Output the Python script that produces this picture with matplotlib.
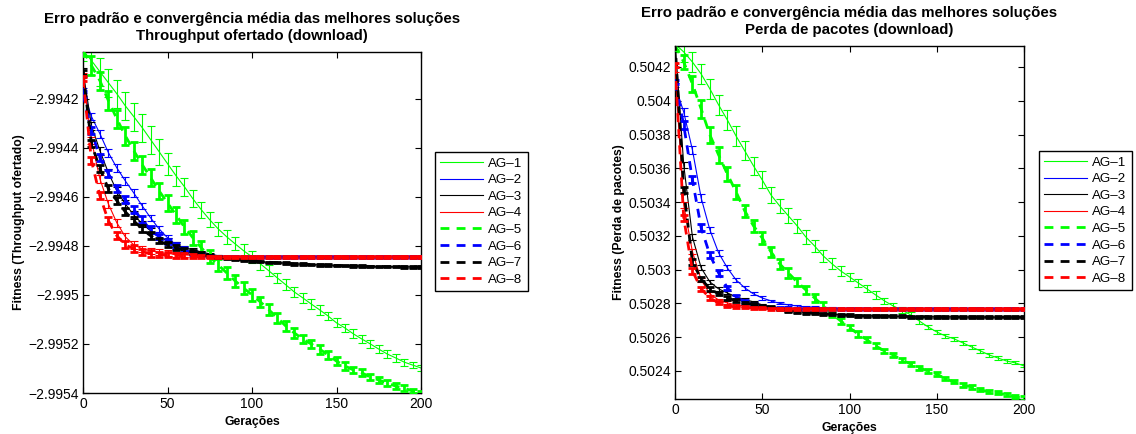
import numpy as np
import matplotlib
matplotlib.use("Agg")
import matplotlib.pyplot as plt
from matplotlib.ticker import FixedLocator, FuncFormatter

plt.rcParams['font.family'] = ['Liberation Sans', 'DejaVu Sans']

# ---------------- data ----------------
generations = np.arange(0, 201, 5)
labels = ["AG–1", "AG–2", "AG–3", "AG–4", "AG–5", "AG–6", "AG–7", "AG–8"]

# Left chart: Fitness (Throughput ofertado)
thr_ag1 = [-2.994004, -2.994045, -2.994090, -2.994135, -2.994180, -2.994229, -2.994273, -2.994318, -2.994367, -2.994416,
           -2.994465, -2.994514, -2.994559, -2.994608, -2.994653, -2.994694, -2.994731, -2.994763, -2.994792, -2.994820,
           -2.994845, -2.994874, -2.994902, -2.994931, -2.994959, -2.994988, -2.995012, -2.995037, -2.995061, -2.995086,
           -2.995114, -2.995135, -2.995159, -2.995180, -2.995200, -2.995221, -2.995241, -2.995257, -2.995274, -2.995286,
           -2.995298]
thr_ag2 = [-2.994167, -2.994273, -2.994343, -2.994420, -2.994482, -2.994535, -2.994584, -2.994637, -2.994686, -2.994731,
           -2.994767, -2.994796, -2.994816, -2.994829, -2.994837, -2.994841, -2.994843, -2.994845, -2.994845, -2.994845,
           -2.994845, -2.994845, -2.994845, -2.994845, -2.994845, -2.994845, -2.994845, -2.994845, -2.994845, -2.994845,
           -2.994845, -2.994845, -2.994845, -2.994845, -2.994845, -2.994845, -2.994845, -2.994845, -2.994845, -2.994845,
           -2.994845]
thr_ag3 = [-2.994086, -2.994310, -2.994412, -2.994502, -2.994576, -2.994629, -2.994674, -2.994710, -2.994739, -2.994763,
           -2.994780, -2.994796, -2.994808, -2.994816, -2.994825, -2.994833, -2.994841, -2.994847, -2.994853, -2.994857,
           -2.994861, -2.994865, -2.994867, -2.994869, -2.994871, -2.994874, -2.994875, -2.994876, -2.994878, -2.994879,
           -2.994880, -2.994881, -2.994882, -2.994883, -2.994884, -2.994884, -2.994885, -2.994885, -2.994886, -2.994886,
           -2.994886]
thr_ag4 = [-2.994106, -2.994371, -2.994527, -2.994629, -2.994706, -2.994763, -2.994796, -2.994812, -2.994820, -2.994827,
           -2.994831, -2.994835, -2.994837, -2.994839, -2.994841, -2.994843, -2.994845, -2.994845, -2.994845, -2.994845,
           -2.994845, -2.994845, -2.994845, -2.994845, -2.994845, -2.994845, -2.994845, -2.994845, -2.994845, -2.994845,
           -2.994845, -2.994845, -2.994845, -2.994845, -2.994845, -2.994845, -2.994845, -2.994845, -2.994845, -2.994845,
           -2.994845]
thr_ag5 = [-2.994004, -2.994065, -2.994127, -2.994208, -2.994282, -2.994351, -2.994412, -2.994469, -2.994522, -2.994576,
           -2.994625, -2.994674, -2.994723, -2.994767, -2.994808, -2.994845, -2.994878, -2.994910, -2.994943, -2.994972,
           -2.995000, -2.995029, -2.995061, -2.995094, -2.995127, -2.995155, -2.995180, -2.995200, -2.995221, -2.995245,
           -2.995270, -2.995290, -2.995306, -2.995318, -2.995335, -2.995347, -2.995359, -2.995372, -2.995380, -2.995392,
           -2.995400]
thr_ag6 = [-2.994180, -2.994331, -2.994441, -2.994506, -2.994567, -2.994612, -2.994653, -2.994694, -2.994735, -2.994763,
           -2.994784, -2.994800, -2.994816, -2.994829, -2.994837, -2.994841, -2.994845, -2.994845, -2.994845, -2.994845,
           -2.994845, -2.994845, -2.994845, -2.994845, -2.994845, -2.994845, -2.994845, -2.994845, -2.994845, -2.994845,
           -2.994845, -2.994845, -2.994845, -2.994845, -2.994845, -2.994845, -2.994845, -2.994845, -2.994845, -2.994845,
           -2.994845]
thr_ag7 = [-2.994094, -2.994384, -2.994486, -2.994567, -2.994616, -2.994661, -2.994698, -2.994731, -2.994759, -2.994780,
           -2.994796, -2.994808, -2.994818, -2.994827, -2.994833, -2.994841, -2.994846, -2.994850, -2.994855, -2.994858,
           -2.994861, -2.994865, -2.994867, -2.994869, -2.994871, -2.994874, -2.994875, -2.994876, -2.994878, -2.994879,
           -2.994880, -2.994881, -2.994882, -2.994883, -2.994884, -2.994884, -2.994885, -2.994885, -2.994886, -2.994886,
           -2.994886]
thr_ag8 = [-2.994118, -2.994453, -2.994596, -2.994698, -2.994759, -2.994796, -2.994812, -2.994825, -2.994831, -2.994835,
           -2.994837, -2.994839, -2.994841, -2.994843, -2.994845, -2.994845, -2.994845, -2.994845, -2.994845, -2.994845,
           -2.994845, -2.994845, -2.994845, -2.994845, -2.994845, -2.994845, -2.994845, -2.994845, -2.994845, -2.994845,
           -2.994845, -2.994845, -2.994845, -2.994845, -2.994845, -2.994845, -2.994845, -2.994845, -2.994845, -2.994845,
           -2.994845]

thr_err1 = [41e-6, 57e-6, 57e-6, 57e-6, 57e-6, 57e-6, 57e-6, 57e-6, 57e-6, 53e-6, 45e-6, 41e-6, 37e-6, 35e-6, 33e-6,
            31e-6, 29e-6, 29e-6, 27e-6, 27e-6, 24e-6, 24e-6, 22e-6, 22e-6, 22e-6, 20e-6, 20e-6, 20e-6, 20e-6, 18e-6,
            18e-6, 18e-6, 18e-6, 16e-6, 16e-6, 16e-6, 16e-6, 16e-6, 14e-6, 14e-6, 14e-6]
thr_err2 = [12e-6, 16e-6, 16e-6, 16e-6, 16e-6, 16e-6, 16e-6, 12e-6, 12e-6, 12e-6, 12e-6, 10e-6, 8e-6, 6e-6, 4e-6,
            4e-6, 4e-6, 3e-6, 3e-6, 3e-6, 3e-6, 3e-6, 3e-6, 3e-6, 3e-6, 3e-6, 3e-6, 3e-6, 3e-6, 3e-6,
            3e-6, 3e-6, 3e-6, 3e-6, 3e-6, 3e-6, 3e-6, 3e-6, 3e-6, 3e-6, 3e-6]
thr_err3 = [12e-6, 16e-6, 16e-6, 16e-6, 16e-6, 16e-6, 16e-6, 12e-6, 12e-6, 12e-6, 12e-6, 10e-6, 8e-6, 6e-6, 4e-6,
            4e-6, 4e-6, 4e-6, 4e-6, 3e-6, 3e-6, 3e-6, 3e-6, 3e-6, 3e-6, 3e-6, 3e-6, 3e-6, 3e-6, 3e-6,
            3e-6, 3e-6, 3e-6, 3e-6, 3e-6, 3e-6, 3e-6, 3e-6, 3e-6, 3e-6, 3e-6]
thr_err4 = [12e-6, 16e-6, 16e-6, 16e-6, 16e-6, 16e-6, 16e-6, 12e-6, 12e-6, 12e-6, 12e-6, 10e-6, 8e-6, 6e-6, 4e-6,
            4e-6, 4e-6, 4e-6, 4e-6, 3e-6, 3e-6, 3e-6, 3e-6, 3e-6, 3e-6, 3e-6, 3e-6, 3e-6, 3e-6, 3e-6,
            3e-6, 3e-6, 3e-6, 3e-6, 3e-6, 3e-6, 3e-6, 3e-6, 3e-6, 3e-6, 3e-6]
thr_err5 = [24e-6, 37e-6, 37e-6, 37e-6, 37e-6, 37e-6, 37e-6, 37e-6, 35e-6, 33e-6, 33e-6, 31e-6, 29e-6, 29e-6, 27e-6,
            27e-6, 24e-6, 24e-6, 24e-6, 24e-6, 24e-6, 22e-6, 22e-6, 20e-6, 20e-6, 20e-6, 18e-6, 18e-6, 18e-6, 16e-6,
            16e-6, 16e-6, 14e-6, 14e-6, 14e-6, 12e-6, 12e-6, 12e-6, 12e-6, 10e-6, 10e-6]
thr_err6 = [12e-6, 14e-6, 14e-6, 14e-6, 14e-6, 14e-6, 14e-6, 14e-6, 14e-6, 10e-6, 10e-6, 10e-6, 10e-6, 8e-6, 6e-6,
            4e-6, 4e-6, 4e-6, 3e-6, 3e-6, 3e-6, 3e-6, 3e-6, 3e-6, 3e-6, 3e-6, 3e-6, 3e-6, 3e-6, 3e-6,
            3e-6, 3e-6, 3e-6, 3e-6, 3e-6, 3e-6, 3e-6, 3e-6, 3e-6, 3e-6, 3e-6]
thr_err7 = [12e-6, 14e-6, 14e-6, 14e-6, 14e-6, 14e-6, 14e-6, 14e-6, 14e-6, 10e-6, 10e-6, 10e-6, 10e-6, 8e-6, 6e-6,
            4e-6, 4e-6, 4e-6, 3e-6, 3e-6, 3e-6, 3e-6, 3e-6, 3e-6, 3e-6, 3e-6, 3e-6, 3e-6, 3e-6, 3e-6,
            3e-6, 3e-6, 3e-6, 3e-6, 3e-6, 3e-6, 3e-6, 3e-6, 3e-6, 3e-6, 3e-6]
thr_err8 = [12e-6, 14e-6, 14e-6, 14e-6, 14e-6, 14e-6, 14e-6, 14e-6, 14e-6, 10e-6, 10e-6, 10e-6, 10e-6, 8e-6, 6e-6,
            4e-6, 4e-6, 4e-6, 3e-6, 3e-6, 3e-6, 3e-6, 3e-6, 3e-6, 3e-6, 3e-6, 3e-6, 3e-6, 3e-6, 3e-6,
            3e-6, 3e-6, 3e-6, 3e-6, 3e-6, 3e-6, 3e-6, 3e-6, 3e-6, 3e-6, 3e-6]

# Right chart: Fitness (Perda de pacotes)
loss_ag1 = [0.504336, 0.504289, 0.504229, 0.504158, 0.504070, 0.503975, 0.503886, 0.503791, 0.503703, 0.503614,
            0.503531, 0.503442, 0.503377, 0.503318, 0.503259, 0.503193, 0.503140, 0.503081, 0.503034, 0.502992,
            0.502957, 0.502921, 0.502886, 0.502850, 0.502815, 0.502785, 0.502761, 0.502732, 0.502696, 0.502661,
            0.502631, 0.502607, 0.502590, 0.502566, 0.502542, 0.502519, 0.502495, 0.502477, 0.502459, 0.502448,
            0.502430]
loss_ag2 = [0.504093, 0.503933, 0.503708, 0.503424, 0.503235, 0.503099, 0.503010, 0.502939, 0.502892, 0.502856,
            0.502832, 0.502815, 0.502800, 0.502791, 0.502785, 0.502779, 0.502776, 0.502773, 0.502770, 0.502767,
            0.502767, 0.502767, 0.502767, 0.502767, 0.502767, 0.502767, 0.502767, 0.502767, 0.502767, 0.502767,
            0.502767, 0.502767, 0.502767, 0.502767, 0.502767, 0.502767, 0.502767, 0.502767, 0.502767, 0.502767,
            0.502767]
loss_ag3 = [0.504360, 0.503620, 0.503193, 0.503010, 0.502927, 0.502886, 0.502862, 0.502838, 0.502823, 0.502809,
            0.502791, 0.502779, 0.502767, 0.502758, 0.502752, 0.502746, 0.502742, 0.502738, 0.502735, 0.502732,
            0.502730, 0.502728, 0.502727, 0.502726, 0.502725, 0.502723, 0.502723, 0.502722, 0.502722, 0.502721,
            0.502720, 0.502720, 0.502720, 0.502719, 0.502719, 0.502719, 0.502718, 0.502718, 0.502718, 0.502718,
            0.502718]
loss_ag4 = [0.504182, 0.503383, 0.503105, 0.502939, 0.502856, 0.502820, 0.502803, 0.502791, 0.502782, 0.502777,
            0.502773, 0.502771, 0.502769, 0.502768, 0.502767, 0.502767, 0.502767, 0.502767, 0.502767, 0.502767,
            0.502767, 0.502767, 0.502767, 0.502767, 0.502767, 0.502767, 0.502767, 0.502767, 0.502767, 0.502767,
            0.502767, 0.502767, 0.502767, 0.502767, 0.502767, 0.502767, 0.502767, 0.502767, 0.502767, 0.502767,
            0.502767]
loss_ag5 = [0.504330, 0.504229, 0.504099, 0.503951, 0.503797, 0.503679, 0.503566, 0.503460, 0.503347, 0.503259,
            0.503187, 0.503105, 0.503034, 0.502980, 0.502927, 0.502880, 0.502832, 0.502785, 0.502738, 0.502696,
            0.502655, 0.502619, 0.502584, 0.502548, 0.502519, 0.502495, 0.502465, 0.502442, 0.502418, 0.502400,
            0.502382, 0.502353, 0.502335, 0.502317, 0.502305, 0.502288, 0.502276, 0.502270, 0.502258, 0.502246,
            0.502240]
loss_ag6 = [0.504111, 0.503856, 0.503531, 0.503247, 0.503087, 0.502980, 0.502892, 0.502838, 0.502809, 0.502791,
            0.502782, 0.502776, 0.502773, 0.502770, 0.502767, 0.502767, 0.502767, 0.502767, 0.502767, 0.502767,
            0.502767, 0.502767, 0.502767, 0.502767, 0.502767, 0.502767, 0.502767, 0.502767, 0.502767, 0.502767,
            0.502767, 0.502767, 0.502767, 0.502767, 0.502767, 0.502767, 0.502767, 0.502767, 0.502767, 0.502767,
            0.502767]
loss_ag7 = [0.504348, 0.503472, 0.503045, 0.502945, 0.502886, 0.502856, 0.502832, 0.502815, 0.502803, 0.502794,
            0.502785, 0.502776, 0.502767, 0.502758, 0.502752, 0.502746, 0.502742, 0.502738, 0.502735, 0.502732,
            0.502730, 0.502728, 0.502727, 0.502726, 0.502725, 0.502723, 0.502723, 0.502722, 0.502722, 0.502721,
            0.502720, 0.502720, 0.502720, 0.502719, 0.502719, 0.502719, 0.502718, 0.502718, 0.502718, 0.502718,
            0.502718]
loss_ag8 = [0.504212, 0.503306, 0.502992, 0.502886, 0.502832, 0.502803, 0.502785, 0.502779, 0.502776, 0.502773,
            0.502771, 0.502769, 0.502768, 0.502767, 0.502767, 0.502767, 0.502767, 0.502767, 0.502767, 0.502767,
            0.502767, 0.502767, 0.502767, 0.502767, 0.502767, 0.502767, 0.502767, 0.502767, 0.502767, 0.502767,
            0.502767, 0.502767, 0.502767, 0.502767, 0.502767, 0.502767, 0.502767, 0.502767, 0.502767, 0.502767,
            0.502767]

loss_err1 = [47e-6, 59e-6, 59e-6, 59e-6, 59e-6, 59e-6, 59e-6, 59e-6, 56e-6, 53e-6, 50e-6, 47e-6, 44e-6, 44e-6, 41e-6,
             41e-6, 36e-6, 33e-6, 33e-6, 27e-6, 24e-6, 24e-6, 21e-6, 21e-6, 18e-6, 18e-6, 15e-6, 15e-6, 15e-6, 12e-6,
             12e-6, 12e-6, 12e-6, 12e-6, 12e-6, 12e-6, 12e-6, 12e-6, 9e-6, 9e-6, 9e-6]
loss_err2 = [12e-6, 21e-6, 21e-6, 21e-6, 18e-6, 18e-6, 15e-6, 12e-6, 12e-6, 9e-6, 9e-6, 6e-6, 6e-6, 6e-6, 6e-6,
             6e-6, 6e-6, 6e-6, 6e-6, 6e-6, 6e-6, 6e-6, 6e-6, 6e-6, 6e-6, 6e-6, 6e-6, 6e-6, 6e-6, 6e-6,
             6e-6, 6e-6, 6e-6, 6e-6, 6e-6, 6e-6, 6e-6, 6e-6, 6e-6, 6e-6, 6e-6]
loss_err3 = [12e-6, 18e-6, 15e-6, 15e-6, 12e-6, 12e-6, 9e-6, 9e-6, 9e-6, 6e-6, 6e-6, 6e-6, 6e-6, 6e-6, 6e-6,
             6e-6, 6e-6, 6e-6, 6e-6, 6e-6, 6e-6, 6e-6, 6e-6, 6e-6, 6e-6, 6e-6, 6e-6, 6e-6, 6e-6, 6e-6,
             6e-6, 6e-6, 6e-6, 6e-6, 6e-6, 6e-6, 6e-6, 6e-6, 6e-6, 6e-6, 6e-6]
loss_err4 = [12e-6, 18e-6, 15e-6, 12e-6, 9e-6, 9e-6, 9e-6, 6e-6, 6e-6, 6e-6, 6e-6, 6e-6, 6e-6, 6e-6, 6e-6,
             6e-6, 6e-6, 6e-6, 6e-6, 6e-6, 6e-6, 6e-6, 6e-6, 6e-6, 6e-6, 6e-6, 6e-6, 6e-6, 6e-6, 6e-6,
             6e-6, 6e-6, 6e-6, 6e-6, 6e-6, 6e-6, 6e-6, 6e-6, 6e-6, 6e-6, 6e-6]
loss_err5 = [30e-6, 41e-6, 47e-6, 53e-6, 47e-6, 47e-6, 44e-6, 41e-6, 38e-6, 36e-6, 33e-6, 30e-6, 30e-6, 27e-6, 24e-6,
             24e-6, 21e-6, 21e-6, 18e-6, 18e-6, 15e-6, 15e-6, 15e-6, 15e-6, 12e-6, 12e-6, 12e-6, 12e-6, 12e-6, 12e-6,
             12e-6, 9e-6, 9e-6, 9e-6, 9e-6, 9e-6, 9e-6, 9e-6, 9e-6, 9e-6, 9e-6]
loss_err6 = [12e-6, 21e-6, 21e-6, 21e-6, 18e-6, 15e-6, 12e-6, 12e-6, 9e-6, 9e-6, 5e-6, 5e-6, 5e-6, 5e-6, 5e-6,
             5e-6, 5e-6, 5e-6, 5e-6, 5e-6, 5e-6, 5e-6, 5e-6, 5e-6, 5e-6, 5e-6, 5e-6, 5e-6, 5e-6, 5e-6,
             5e-6, 5e-6, 5e-6, 5e-6, 5e-6, 5e-6, 5e-6, 5e-6, 5e-6, 5e-6, 5e-6]
loss_err7 = [12e-6, 18e-6, 15e-6, 12e-6, 12e-6, 9e-6, 9e-6, 9e-6, 6e-6, 6e-6, 6e-6, 6e-6, 6e-6, 6e-6, 6e-6,
             6e-6, 6e-6, 6e-6, 6e-6, 6e-6, 6e-6, 6e-6, 6e-6, 6e-6, 6e-6, 6e-6, 6e-6, 6e-6, 6e-6, 6e-6,
             6e-6, 6e-6, 6e-6, 6e-6, 6e-6, 6e-6, 6e-6, 6e-6, 6e-6, 6e-6, 6e-6]
loss_err8 = [12e-6, 18e-6, 15e-6, 12e-6, 9e-6, 9e-6, 6e-6, 6e-6, 6e-6, 6e-6, 6e-6, 6e-6, 6e-6, 6e-6, 6e-6,
             6e-6, 6e-6, 6e-6, 6e-6, 6e-6, 6e-6, 6e-6, 6e-6, 6e-6, 6e-6, 6e-6, 6e-6, 6e-6, 6e-6, 6e-6,
             6e-6, 6e-6, 6e-6, 6e-6, 6e-6, 6e-6, 6e-6, 6e-6, 6e-6, 6e-6, 6e-6]

thr_yticks = [-2.9954, -2.9952, -2.995, -2.9948, -2.9946, -2.9944, -2.9942]
loss_yticks = [0.5024, 0.5026, 0.5028, 0.503, 0.5032, 0.5034, 0.5036, 0.5038, 0.504, 0.5042]
xticks = [0, 50, 100, 150, 200]

# ---------------- styles ----------------
colors = ['#00ff00', '#0000ff', '#000000', '#ff0000',
          '#00ff00', '#0000ff', '#000000', '#ff0000']
dashed = [False, False, False, False, True, True, True, True]

fig = plt.figure(figsize=(11.36, 4.34), dpi=100)
ax1 = fig.add_axes([83 / 1136, 1 - 393 / 434, 338 / 1136, 341 / 434])
ax2 = fig.add_axes([675 / 1136, 1 - 399 / 434, 349 / 1136, 353 / 434])


def fmt(v, pos):
    s = "%g" % v
    return s.replace('-', '\u2212')


def draw(ax, series, errs, ylim, yticks, title, ylabel, legend_xy):
    handles = []
    for i, (vals, err) in enumerate(zip(series, errs)):
        c = colors[i]
        if dashed[i]:
            lw = 2.0
            ls = (0, (3.2, 2.6))
        else:
            lw = 0.8
            ls = '-'
        ln, = ax.plot(generations, vals, color=c, lw=lw, linestyle=ls, zorder=2 + i)
        ax.errorbar(generations, vals, yerr=err, fmt='none', ecolor=c,
                    elinewidth=lw, capsize=2.6, capthick=lw, zorder=2 + i)
        handles.append(ln)
    ax.set_xlim(0, 200)
    ax.set_ylim(*ylim)
    ax.xaxis.set_major_locator(FixedLocator(xticks))
    ax.yaxis.set_major_locator(FixedLocator(yticks))
    ax.yaxis.set_major_formatter(FuncFormatter(fmt))
    ax.tick_params(direction='in', length=4, width=0.8, top=True, right=True,
                   labelsize=10, pad=3)
    for sp in ax.spines.values():
        sp.set_linewidth(1.0)
        sp.set_color('black')
    ax.set_title(title, fontsize=10.8, fontweight='bold', pad=8.5, linespacing=1.3)
    ax.set_xlabel("Gerações", fontsize=8.8, fontweight='bold', labelpad=3.5)
    ax.set_ylabel(ylabel, fontsize=8.8, fontweight='bold', labelpad=2)
    leg = fig.legend(handles, labels, loc='upper left', bbox_to_anchor=legend_xy,
                     bbox_transform=fig.transFigure, fontsize=9.6, frameon=True,
                     fancybox=False, framealpha=1, edgecolor='black',
                     handlelength=3.2, handletextpad=0.4, labelspacing=0.32,
                     borderpad=0.4, borderaxespad=0)
    leg.get_frame().set_linewidth(1.0)


draw(ax1,
     [thr_ag1, thr_ag2, thr_ag3, thr_ag4, thr_ag5, thr_ag6, thr_ag7, thr_ag8],
     [thr_err1, thr_err2, thr_err3, thr_err4, thr_err5, thr_err6, thr_err7, thr_err8],
     (-2.9954, -2.99401), thr_yticks,
     "Erro padrão e convergência média das melhores soluções\nThroughput ofertado (download)",
     "Fitness (Throughput ofertado)", (435 / 1136, 1 - 152 / 434))

draw(ax2,
     [loss_ag1, loss_ag2, loss_ag3, loss_ag4, loss_ag5, loss_ag6, loss_ag7, loss_ag8],
     [loss_err1, loss_err2, loss_err3, loss_err4, loss_err5, loss_err6, loss_err7, loss_err8],
     (0.502234, 0.504324), loss_yticks,
     "Erro padrão e convergência média das melhores soluções\nPerda de pacotes (download)",
     "Fitness (Perda de pacotes)", (1039 / 1136, 1 - 151 / 434))

fig.savefig("out.png", dpi=100)
